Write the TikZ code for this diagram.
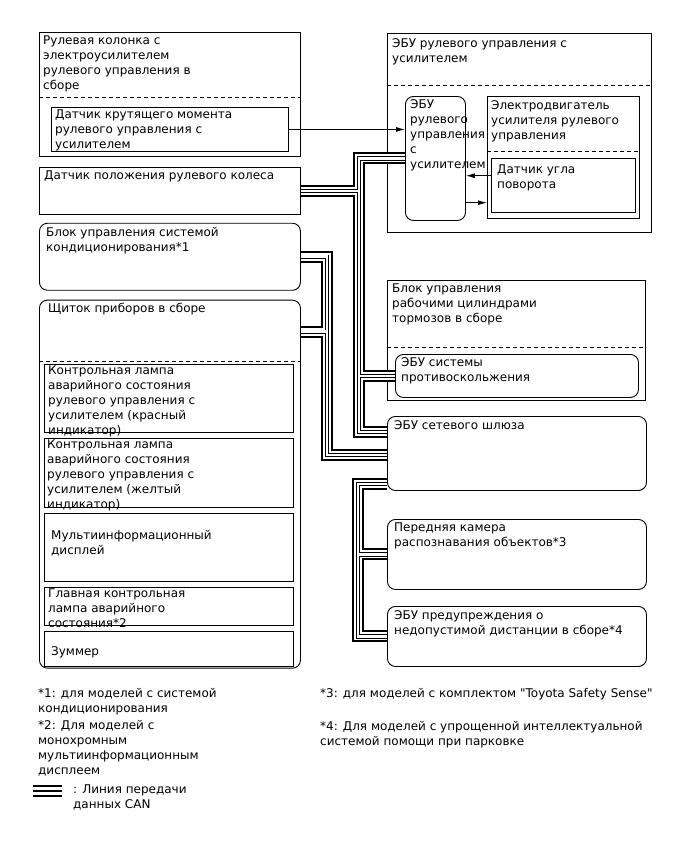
\documentclass[tikz,border=0pt]{standalone}
\usepackage{fontspec}
\setmainfont{DejaVu Sans}
\newfontfamily\notefont{DejaVu Sans}
\usetikzlibrary{arrows.meta, positioning, calc}

\begin{document}
\begin{tikzpicture}[x=1pt, y=-1pt,
    font=\fontsize{12}{15}\selectfont,
    blk/.style={draw, line width=0.9pt, inner sep=0pt, anchor=north west},
    rblk/.style={blk, rounded corners=8pt},
    txt/.style={inner sep=0pt, anchor=north west, align=left},
    note/.style={txt, font=\notefont\fontsize{12}{15}\selectfont},
    sep/.style={line width=0.9pt, dash pattern=on 4pt off 3pt},
    arr/.style={line width=0.9pt, -{Latex[length=9pt, width=5pt]}},
    can/.style={line width=2pt, double=white, double distance=8pt,
        postaction={draw, line width=0.9pt, double=white, double distance=2.6pt}},
    canlegend/.style={line width=2.4pt, double=white, double distance=7.4pt,
        postaction={draw, line width=2.4pt}}
]
    \useasboundingbox (0,0) rectangle (688,852);

    % left column
    \node[blk, minimum width=261pt, minimum height=124pt] (colbox) at (39,32) {};
    \node[blk, minimum width=237pt, minimum height=44pt] (torque) at (51,107) {};
    \node[blk, minimum width=261pt, minimum height=47pt, below=10pt of colbox] (swsbox) {};
    \node[rblk, minimum width=261pt, minimum height=67pt, below=8pt of swsbox] (acbox) {};
    \node[rblk, minimum width=261pt, minimum height=368pt, below=9pt of acbox] (meterbox) {};
    \node[blk, minimum width=249pt, minimum height=68pt] (redlamp) at (44,364) {};
    \node[blk, minimum width=249pt, minimum height=69pt, below=5pt of redlamp] (ylwlamp) {};
    \node[blk, minimum width=249pt, minimum height=68pt, below=5pt of ylwlamp] (mfd) {};
    \node[blk, minimum width=249pt, minimum height=38pt, below=5pt of mfd] (mainlamp) {};
    \node[blk, minimum width=249pt, minimum height=35pt, below=5pt of mainlamp] (buzzer) {};

    % right column
    \node[blk, minimum width=264pt, minimum height=199pt] (epsbox) at (387,33) {};
    \node[rblk, minimum width=60pt, minimum height=124pt] (epsecu) at (405,96) {};
    \node[blk, minimum width=152pt, minimum height=122pt] (motor) at (487,96) {};
    \node[blk, line width=1.4pt, minimum width=144pt, minimum height=54pt] (angle) at (491,158) {};
    \node[blk, minimum width=258pt, minimum height=120pt] (brakebox) at (387,280) {};
    \node[rblk, minimum width=243pt, minimum height=43pt] (skidecu) at (395,354) {};
    \node[rblk, minimum width=259pt, minimum height=74pt] (gwbox) at (387,416) {};
    \node[rblk, minimum width=259pt, minimum height=70pt] (cambox) at (387,519) {};
    \node[rblk, minimum width=259pt, minimum height=60pt] (pcsbox) at (387,606) {};

    \draw[sep] ($(colbox.north west)+(0,65)$) -- ($(colbox.north east)+(0,65)$);
    \draw[sep] ($(meterbox.north west)+(0,62)$) -- ($(meterbox.north east)+(0,62)$);
    \draw[sep] ($(epsbox.north west)+(0,52)$) -- ($(epsbox.north east)+(0,52)$);
    \draw[sep] ($(motor.north west)+(0,55)$) -- ($(motor.north east)+(0,55)$);
    \draw[sep] ($(brakebox.north west)+(0,67)$) -- ($(brakebox.north east)+(0,67)$);

    % texts
    \node[txt] (colboxtxt) at ($(colbox.north west)+(4,4)$) {Рулевая колонка с\\электроусилителем\\рулевого управления в\\сборе};
    \node[txt] (torquetxt) at ($(torque.north west)+(4,3)$) {Датчик крутящего момента\\рулевого управления с\\усилителем};
    \node[txt] (swstxt) at ($(swsbox.north west)+(5,4)$) {Датчик положения рулевого колеса};
    \node[txt] (actxt) at ($(acbox.north west)+(7,4)$) {Блок управления системой\\кондиционирования*1};
    \node[txt] (metertxt) at ($(meterbox.north west)+(9,3)$) {Щиток приборов в сборе};
    \node[txt] (redtxt) at ($(redlamp.north west)+(4,2)$) {Контрольная лампа\\аварийного состояния\\рулевого управления с\\усилителем (красный\\индикатор)};
    \node[txt] (ylwtxt) at ($(ylwlamp.north west)+(3,2)$) {Контрольная лампа\\аварийного состояния\\рулевого управления с\\усилителем (желтый\\индикатор)};
    \node[txt] (mfdtxt) at ($(mfd.north west)+(7,17)$) {Мультиинформационный\\дисплей};
    \node[txt] (mainlamptxt) at ($(mainlamp.north west)+(4,2)$) {Главная контрольная\\лампа аварийного\\состояния*2};
    \node[txt] (buzzertxt) at ($(buzzer.north west)+(7,16)$) {Зуммер};
    \node[txt] (epstxt) at ($(epsbox.north west)+(5,5)$) {ЭБУ рулевого управления с\\усилителем};
    \node[txt] (epsecutxt) at ($(epsecu.north west)+(5,3)$) {ЭБУ\\рулевого\\управления\\с\\усилителем};
    \node[txt] (motortxt) at ($(motor.north west)+(4,4)$) {Электродвигатель\\усилителя рулевого\\управления};
    \node[txt] (angletxt) at ($(angle.north west)+(6,7)$) {Датчик угла\\поворота};
    \node[txt] (braketxt) at ($(brakebox.north west)+(5,4)$) {Блок управления\\рабочими цилиндрами\\тормозов в сборе};
    \node[txt] (skidtxt) at ($(skidecu.north west)+(6,3)$) {ЭБУ системы\\противоскольжения};
    \node[txt] (gwtxt) at ($(gwbox.north west)+(7,4)$) {ЭБУ сетевого шлюза};
    \node[txt] (camtxt) at ($(cambox.north west)+(7,4)$) {Передняя камера\\распознавания объектов*3};
    \node[txt] (pcstxt) at ($(pcsbox.north west)+(7,4)$) {ЭБУ предупреждения о\\недопустимой дистанции в сборе*4};

    % signal lines
    \draw[arr] (torque.east) -- (torque.east -| epsecu.west);
    \draw[arr] ($(angle.west)+(0,-10)$) -- ($(angle.west -| epsecu.east)+(0,-10)$);
    \draw[arr] ($(angle.west -| epsecu.east)+(0,17)$) -- ($(angle.west -| motor.west)+(0,17)$);

    % CAN
    \coordinate (busa) at (359,0);
    \coordinate (busb) at (327,0);
    \coordinate (busc) at (358,0);
    \coordinate (gwa) at ($(gwbox.north west)+(0,16)$);
    \coordinate (gwb) at ($(gwbox.north west)+(0,39)$);
    \coordinate (gwc) at ($(gwbox.north west)+(0,68)$);
    \coordinate (meterport) at ($(meterbox.north east)+(0,32)$);
    \draw[can] (epsecu.west) -| (busa |- gwa) -- (gwa)
        (swsbox.east) -- (swsbox.east -| busa)
        (skidecu.west) -- (skidecu.west -| busa);
    \draw[can] (acbox.east) -| (busb |- gwb) -- (gwb)
        (meterport) -- (meterport -| busb);
    \draw[can] (gwc) -| (busc |- pcsbox.west) -- (pcsbox.west)
        (cambox.west) -- (cambox.west -| busc);

    % notes
    \node[note] (note1) at (38,688) {*1: для моделей с системой\\кондиционирования};
    \node[note] (note2) at (38,720) {*2: Для моделей с\\монохромным\\мультиинформационным\\дисплеем};
    \node[note] (note3) at (320,688) {*3: для моделей с комплектом "Toyota Safety Sense"};
    \node[note] (note4) at (320,721) {*4: Для моделей с упрощенной интеллектуальной\\системой помощи при парковке};
    \coordinate (lgl) at (33,791);
    \coordinate (lgr) at (62,791);
    \draw[canlegend] (lgl) -- (lgr);
    \node[txt] (lgtxt) at (73,785) {: Линия передачи\\данных CAN};
\end{tikzpicture}
\end{document}
